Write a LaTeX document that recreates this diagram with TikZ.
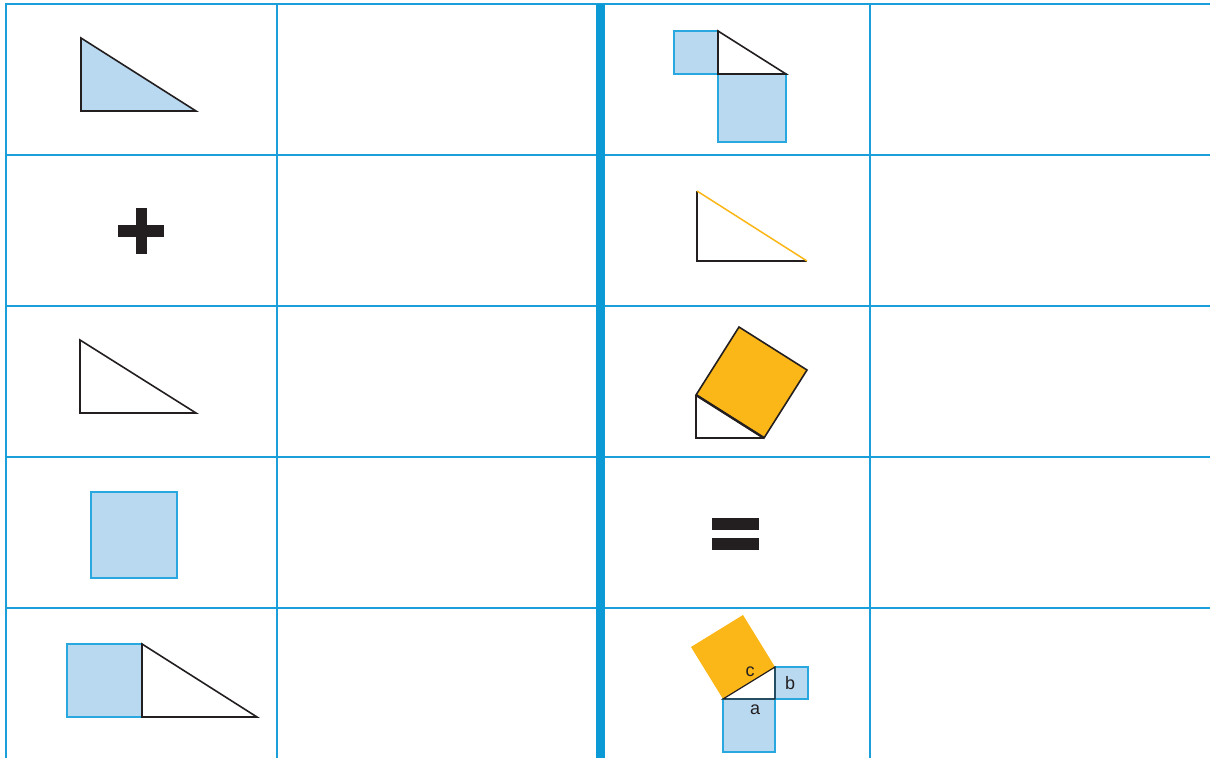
\documentclass[tikz,border=0pt]{standalone}
\usepackage{fontspec}
\setmainfont{Liberation Sans}
\definecolor{gridblue}{HTML}{1A9FDB}
\definecolor{thickblue}{HTML}{0B9AD6}
\definecolor{lightblue}{HTML}{B9D9F1}
\definecolor{sqedge}{HTML}{29A8E0}
\definecolor{orangefill}{HTML}{FBB618}
\definecolor{darkink}{HTML}{231F20}
\tikzset{
  gridline/.style={draw=gridblue, line width=2.6pt},
  thickline/.style={draw=thickblue, line width=9pt},
  bluesq/.style={fill=lightblue, draw=sqedge, line width=1.5pt},
  tri/.style={draw=darkink, line width=1.6pt, line join=miter},
  bluetri/.style={tri, fill=lightblue},
  orsq/.style={fill=orangefill, draw=darkink, line width=1.6pt},
  orsqnoedge/.style={fill=orangefill},
  ink/.style={fill=darkink},
  lbl/.style={font=\fontsize{18}{18}\selectfont, text=darkink, inner sep=0pt}
}
\begin{document}
\begin{tikzpicture}[x=1pt,y=-1pt]
\useasboundingbox (0,0) rectangle (1210,758);
% grid
\foreach \y in {4,155,306,457,608} \draw[gridline] (6,\y) -- (1210,\y);
\draw[gridline] (6,3) -- (6,758);
\draw[gridline] (277,4) -- (277,758);
\draw[gridline] (870,4) -- (870,758);
\draw[thickline] (600,4) -- (600,758);

% row 1 col 1: blue triangle
\draw[bluetri] (81,38) -- (81,111) -- (196,111) -- cycle;
% row 2 col 1: plus
\fill[ink] (118,225) rectangle (164,237);
\fill[ink] (136,208) rectangle (147,254);
% row 3 col 1: white triangle
\draw[tri] (80,340) -- (80,413) -- (196,413) -- cycle;
% row 4 col 1: blue square
\draw[bluesq] (91,492) rectangle (177,578);
% row 5 col 1: square + triangle
\draw[bluesq] (67,644) rectangle (142,717);
\draw[tri] (142,644) -- (142,717) -- (257,717) -- cycle;

% row 1 col 3: triangle with squares on legs
\draw[bluesq] (674,31) rectangle (718,74);
\draw[bluesq] (718,74) rectangle (786,142);
\draw[tri] (718,31) -- (718,74) -- (786,74) -- cycle;
% row 2 col 3: triangle with orange hypotenuse
\draw[tri] (697,191) -- (697,261) -- (807,261);
\draw[draw=orangefill, line width=1.5pt] (697,191) -- (807,261);
% row 3 col 3: triangle with square on hypotenuse
\draw[tri] (696,395) -- (696,438) -- (764,438);
\draw[orsq] (696,395) -- (764,438) -- (807,370) -- (739,327) -- cycle;
\draw[darkink, line width=2.4pt] (696,395) -- (764,438);
% row 4 col 3: equals
\fill[ink] (712,518) rectangle (759,530);
\fill[ink] (712,538) rectangle (759,550);
% row 5 col 3: full Pythagoras figure
\fill[orsqnoedge] (723,699) -- (775,667) -- (743,615) -- (691,647) -- cycle;
\draw[bluesq] (723,699) rectangle (775,752);
\draw[bluesq] (775,667) rectangle (808,699);
\draw[tri, line width=1.2pt] (723,699) -- (775,667) -- (775,699) -- cycle;
\node[lbl] (c) at (750,672) {c};
\node[lbl] (b) at (790,683) {b};
\node[lbl] (a) at (755,710) {a};
\end{tikzpicture}
\end{document}
